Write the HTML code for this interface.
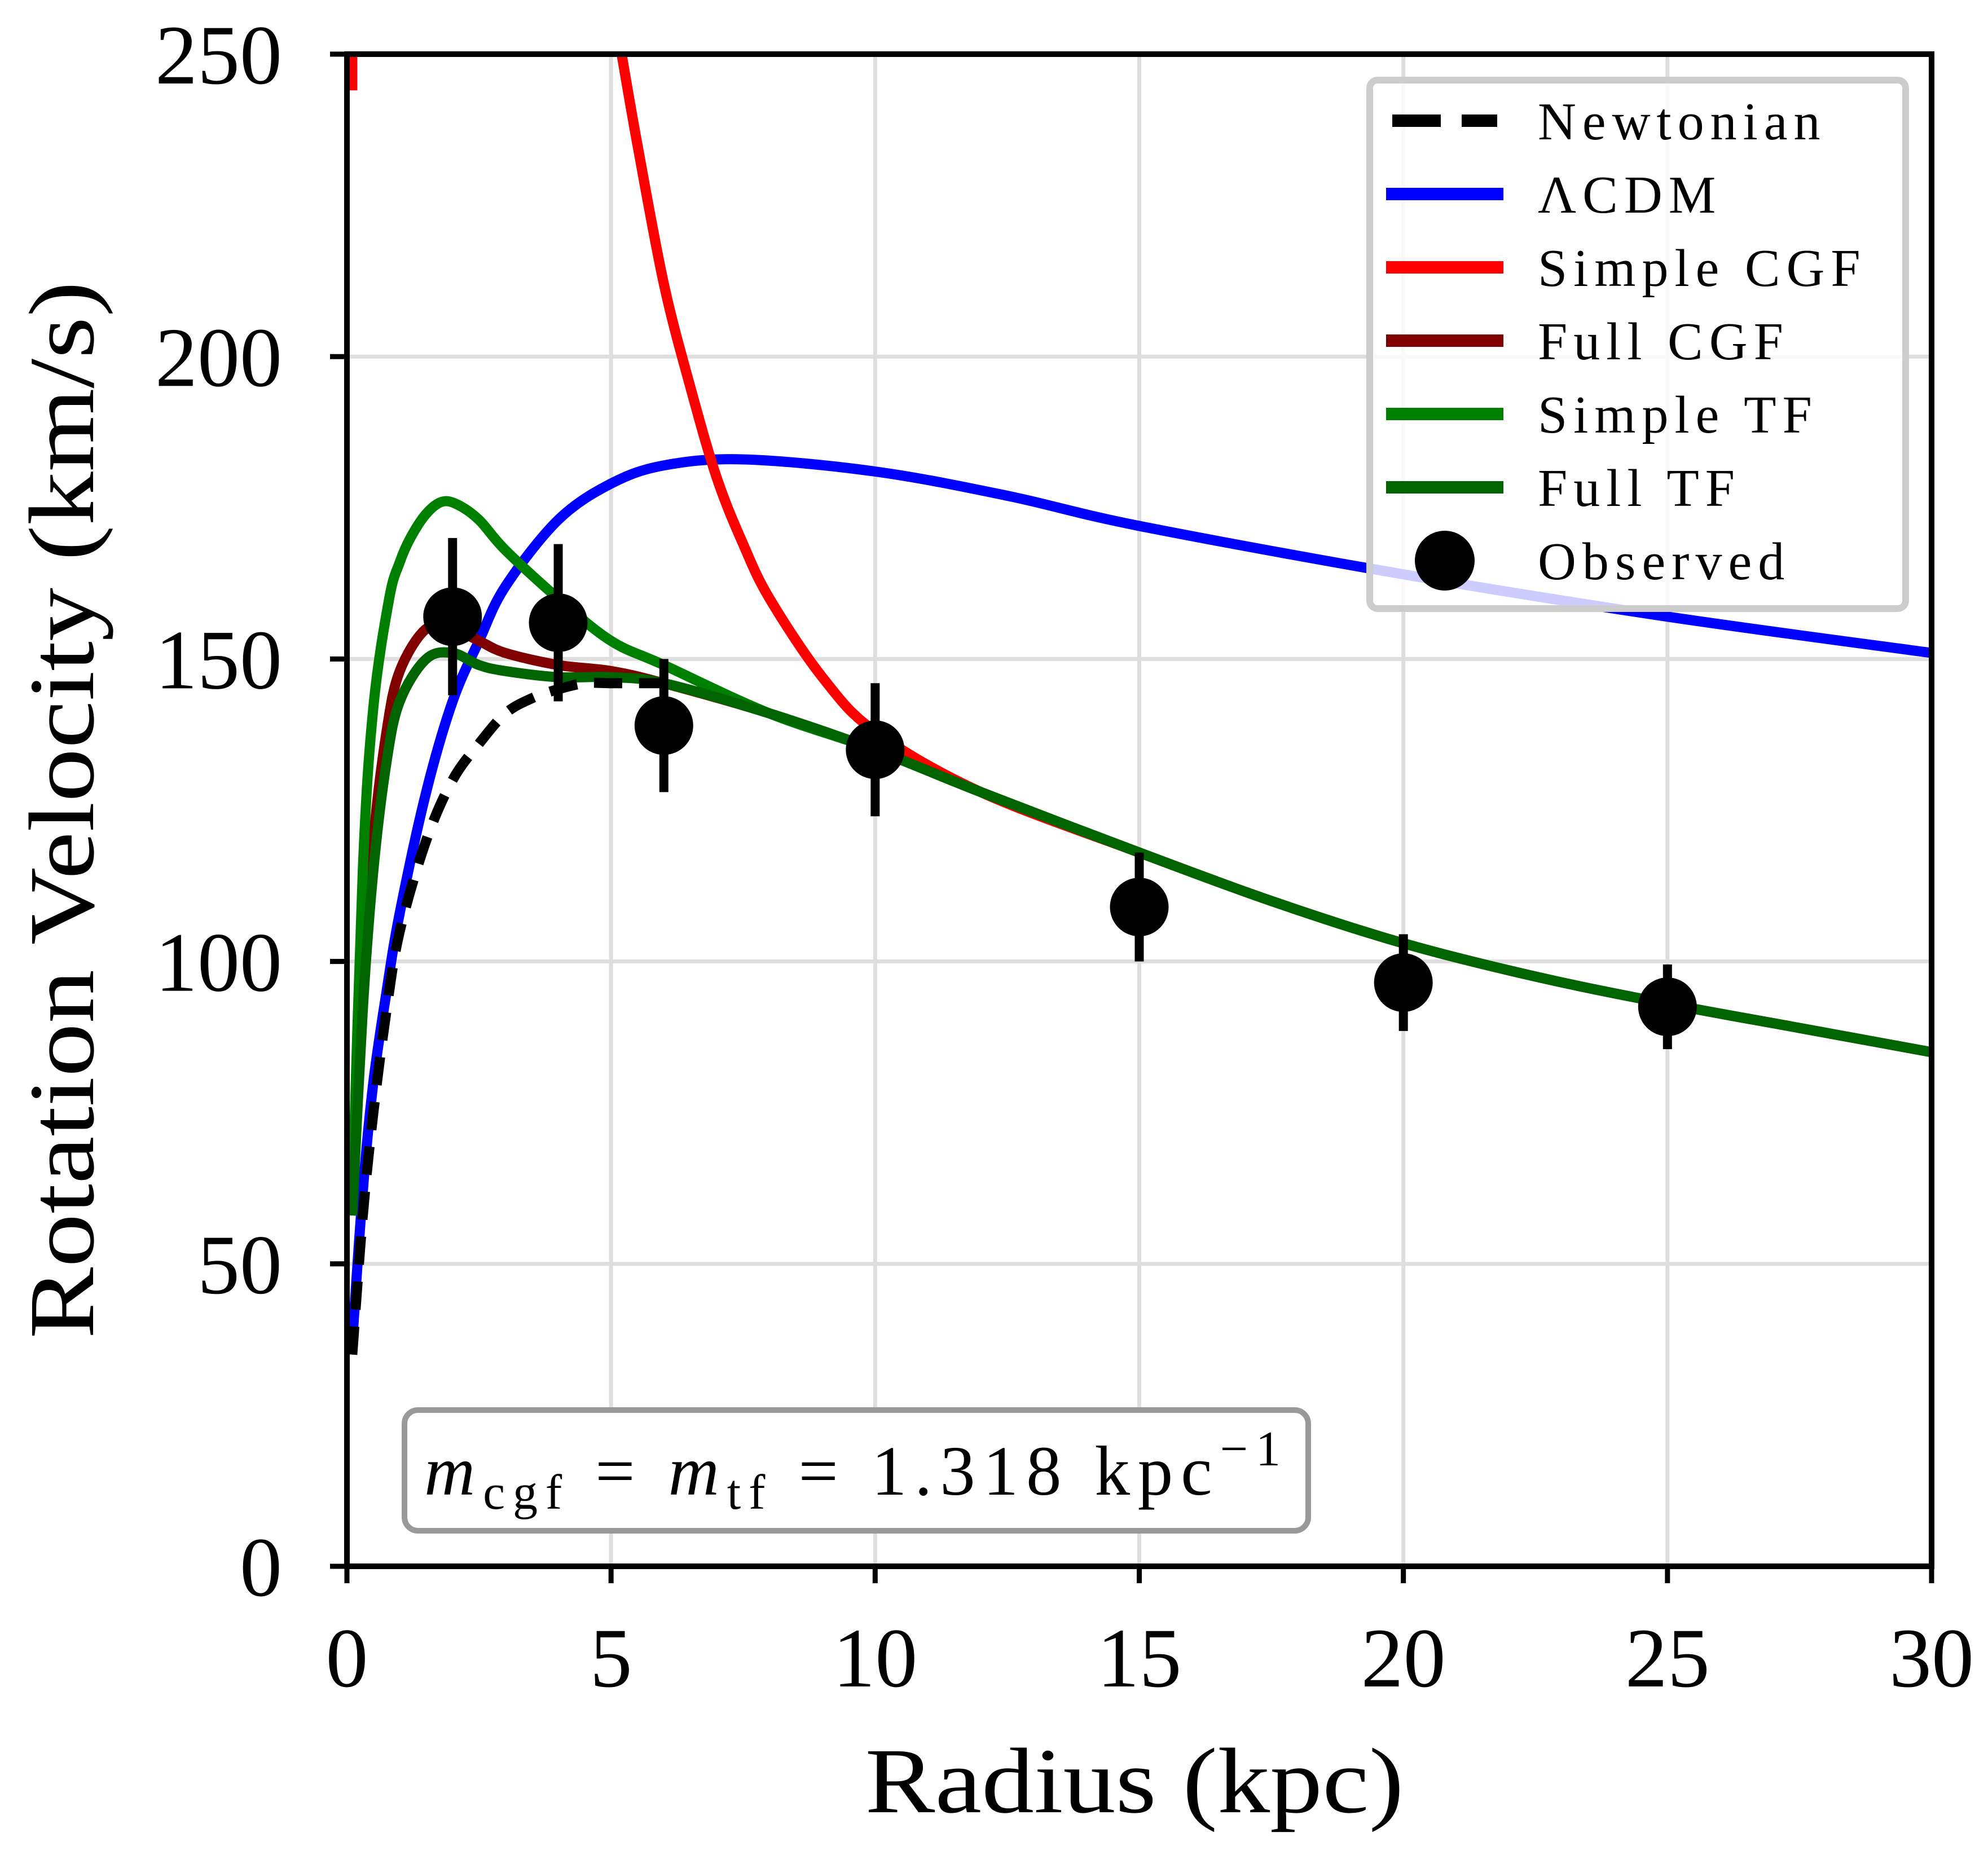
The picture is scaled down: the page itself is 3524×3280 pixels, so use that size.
<!DOCTYPE html>
<html><head><meta charset="utf-8"><style>
html,body{margin:0;padding:0;background:#fff}
svg{display:block}
text{font-family:"Liberation Serif",serif;fill:#000}
</style></head><body>
<svg id="chart" width="3524" height="3280" viewBox="0 0 3524 3280" xmlns="http://www.w3.org/2000/svg">
<g id="grid"></g>
<g id="series"></g>
<g id="axes"></g>
<text x="2011" y="3213" font-size="165" text-anchor="middle" textLength="955" lengthAdjust="spacingAndGlyphs">Radius (kpc)</text>
<text transform="translate(165,1436) rotate(-90)" font-size="165" text-anchor="middle" textLength="1875" lengthAdjust="spacingAndGlyphs">Rotation Velocity (km/s)</text>
<g>
<rect x="717" y="2500" width="1602" height="214" rx="24" fill="#fff" stroke="#999" stroke-width="10"/>
<text x="752" y="2650" font-size="125" textLength="1518" lengthAdjust="spacing"><tspan font-style="italic">m</tspan><tspan font-size="88" dy="25">cgf</tspan><tspan dy="-25"> = </tspan><tspan font-style="italic">m</tspan><tspan font-size="88" dy="25">tf</tspan><tspan dy="-25"> = 1.318 kpc</tspan><tspan font-size="88" dy="-52">−1</tspan></text>
</g>
<g id="legend">
<rect x="2428" y="142" width="950" height="937" rx="14" fill="#fff" fill-opacity="0.8" stroke="#ccc" stroke-width="12"/>
</g>
</svg>
<script>
const xTicks=[0,5,10,15,20,25,30];
const yTicks=[0,50,100,150,200,250];
const newtR=[0.1,0.3,0.5,0.75,1,1.5,2,2.5,3,3.5,4,4.5,5,5.5,6];
const newtV=[35,58,75,92,105,120,130,136,141,143.5,145,146,146,146,146];
const lcdmR=[0.1,0.3,0.5,0.75,1,1.5,2,2.5,3,4,5,6,7.5,10,12.5,15,20,25,30];
const lcdmV=[37,62,80,95,108,128,143,153,162,173,179,182,183,181,177,172,164,157,151];
const scgfR=[5.2,5.5,6,6.5,7,7.5,8,9,10,12,15,17.5,20,22.5,25,27.5,30];
const scgfV=[250,235,212,195,180,169,160,147,138,128,118,110,103,97.5,93,89,85];
const scgfInnerR=[0.1,0.1];
const scgfInnerV=[244,250];
const fcgfR=[0.1,0.3,0.5,0.75,1,1.5,2,2.5,3,4,5,6,8,10,12,15,17.5,20,22.5,25,27.5,30];
const fcgfV=[58,95,120,138,148,155,155,153,151,149,148,146,141,135,128,118,110,103,97.5,93,89,85];
const stfR=[0.1,0.3,0.5,0.8,1,1.2,1.5,1.8,2.1,2.5,3,4,5,6,8,10,12,15,17.5,20,22.5,25,27.5,30];
const stfV=[60,115,142,160,166,170,174,176,175.5,173,168,160,153,149,141,135,128,118,110,103,97.5,93,89,85];
const ftfR=[0.1,0.3,0.5,0.75,1,1.5,2,2.5,3,4,5,6,8,10,12,15,17.5,20,22.5,25,27.5,30];
const ftfV=[58,92,115,133,143,150,151,149,148,147,147,146,141,135,128,118,110,103,97.5,93,89,85];
const obsR=[2,4,6,10,15,20,25];
const obsV=[157,156,139,135,109,96.5,92.5];
const obsErr=[13,13,11,11,9,8,7];
const legendLabels=["Newtonian","ΛCDM","Simple CGF","Full CGF","Simple TF","Full TF","Observed"];

const X0=615,X1=3424,Y0=2777,Y1=96;
const sx=v=>X0+(v-0)/(30-0)*(X1-X0);
const sy=v=>Y0-(v-0)/(250-0)*(Y0-Y1);
const NS="http://www.w3.org/2000/svg";
function mk(tag,attrs,parent){const e=document.createElementNS(NS,tag);for(const k in attrs)e.setAttribute(k,attrs[k]);parent.appendChild(e);return e;}
const grid=document.getElementById('grid'),series=document.getElementById('series'),axes=document.getElementById('axes'),legend=document.getElementById('legend');

xTicks.forEach(t=>{
  if(t>0&&t<30){const g=mk('line',{x1:sx(t),x2:sx(t),y1:Y1,y2:Y0,stroke:'#dedede','stroke-width':7},grid);
  
  }
  const tk=mk('line',{x1:sx(t),x2:sx(t),y1:Y0,y2:Y0+30,stroke:'#000','stroke-width':9},axes);
  
  
  const lb=mk('text',{x:sx(t),y:2990,'font-size':150,'text-anchor':'middle'},axes);lb.textContent=t;
  
  
});
yTicks.forEach(t=>{
  if(t>0&&t<250){const g=mk('line',{x1:X0,x2:X1,y1:sy(t),y2:sy(t),stroke:'#dedede','stroke-width':7},grid);
  
  }
  const tk=mk('line',{x1:X0-30,x2:X0,y1:sy(t),y2:sy(t),stroke:'#000','stroke-width':9},axes);
  
  
  const lb=mk('text',{x:500,y:sy(t)+52,'font-size':150,'text-anchor':'end'},axes);lb.textContent=t;
  
  
});
const frame=mk('rect',{x:X0,y:Y1,width:X1-X0,height:Y0-Y1,fill:'none',stroke:'#000','stroke-width':10},axes);



function smoothPath(R,V){
  const P=R.map((r,i)=>[sx(r),sy(V[i])]);
  let d='M'+P[0][0].toFixed(1)+','+P[0][1].toFixed(1);
  for(let i=0;i<P.length-1;i++){
    const p0=P[Math.max(0,i-1)],p1=P[i],p2=P[i+1],p3=P[Math.min(P.length-1,i+2)];
    const c1=[p1[0]+(p2[0]-p0[0])/6,p1[1]+(p2[1]-p0[1])/6];
    const c2=[p2[0]-(p3[0]-p1[0])/6,p2[1]-(p3[1]-p1[1])/6];
    d+=' C'+c1[0].toFixed(1)+','+c1[1].toFixed(1)+' '+c2[0].toFixed(1)+','+c2[1].toFixed(1)+' '+p2[0].toFixed(1)+','+p2[1].toFixed(1);
  }
  return d;
}
function line(R,V,color,name,dash){
  const p=mk('path',{d:smoothPath(R,V),fill:'none',stroke:color,'stroke-width':18,'stroke-linejoin':'round'},series);
  if(dash)p.setAttribute('stroke-dasharray',dash);
  
  
}
line(lcdmR,lcdmV,'#0000ff','lcdm-line');
line(scgfR,scgfV,'#ff0000','simple-cgf-line');
line(scgfInnerR,scgfInnerV,'#ff0000','simple-cgf-inner-line');
line(fcgfR,fcgfV,'#800000','full-cgf-line');
line(stfR,stfV,'#008000','simple-tf-line');
line(ftfR,ftfV,'#006400','full-tf-line');
line(newtR,newtV,'#000000','newtonian-line','50,30');

obsR.forEach((r,i)=>{
  const e=mk('line',{x1:sx(r),x2:sx(r),y1:sy(obsV[i]-obsErr[i]),y2:sy(obsV[i]+obsErr[i]),stroke:'#000','stroke-width':16},series);
  
  
  const c=mk('circle',{cx:sx(r),cy:sy(obsV[i]),r:52,fill:'#000'},series);
  
  
});

const lcolors=['#000','#0000ff','#ff0000','#800000','#008000','#006400','#000'];
legendLabels.forEach((lab,i)=>{
  const y=214+i*130;
  let h;
  if(i===6){h=mk('circle',{cx:2561,cy:y,r:53,fill:'#000'},legend);}
  else{h=mk('line',{x1:2457,x2:2665,y1:y,y2:y,stroke:lcolors[i],'stroke-width':22},legend);
    if(i===0){h.setAttribute('x1',2468);h.setAttribute('x2',2654);h.setAttribute('stroke-dasharray','86,37');}}
  
  
  const t=mk('text',{x:2726,y:y+33,'font-size':94,'letter-spacing':11},legend);t.textContent=lab;
  
  
});
</script>
</body></html>
